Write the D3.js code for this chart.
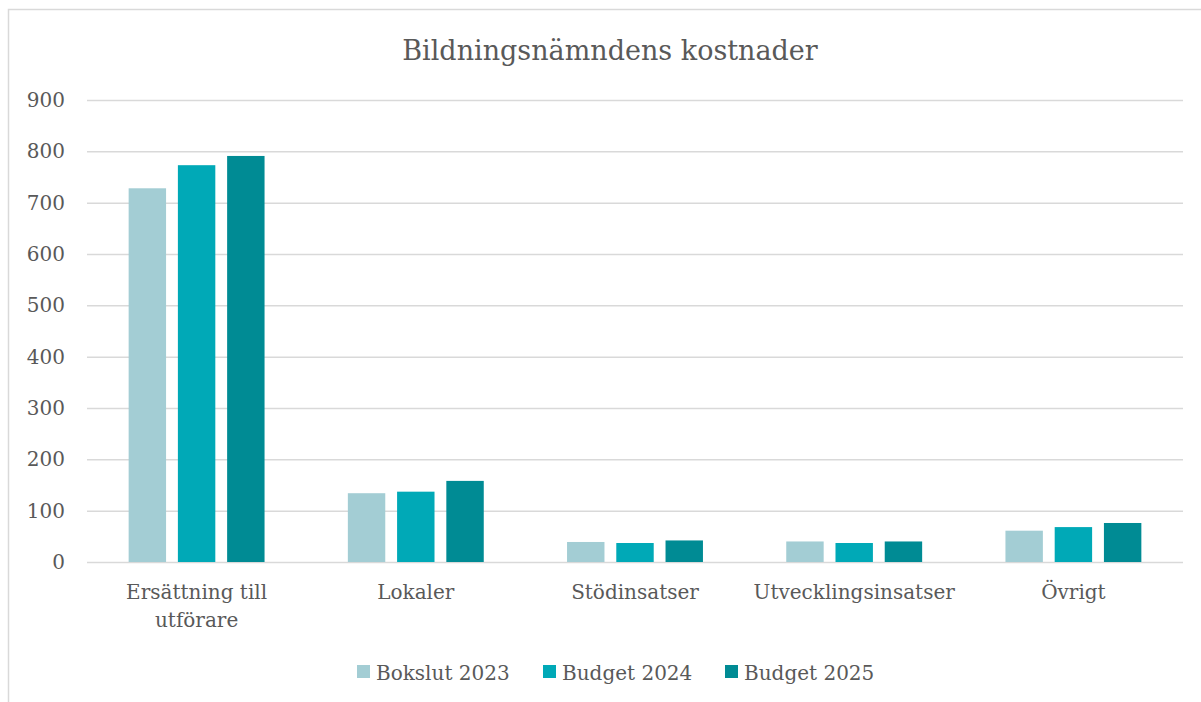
<!DOCTYPE html>
<html>
<head>
<meta charset="utf-8" />
<title>Bildningsnämndens kostnader</title>
<style type="text/css">
body{ margin:0; background:#fff; }
svg text{ font-family:"DejaVu Serif", serif; fill:#595959; }
</style>
<script src="https://d3js.org/d3.v7.min.js"></script>
</head>
<body>
<script>
	var categories = ["Ersättning till|utförare", "Lokaler", "Stödinsatser", "Utvecklingsinsatser", "Övrigt"];
	var seriesNames = ["Bokslut 2023", "Budget 2024", "Budget 2025"];
	var bokslut2023 = [728, 134, 39, 40, 61];
	var budget2024 = [773, 137, 37, 37, 68];
	var budget2025 = [791, 158, 42, 40, 76];
	var yTicks = [0, 100, 200, 300, 400, 500, 600, 700, 800, 900];
	var colors = ["#A3CDD4", "#00A9B7", "#008B94"];

	var values = [bokslut2023, budget2024, budget2025];
	var W = 1201, H = 702;
	var plotLeft = 87, plotRight = 1183, plotTop = 100, plotBottom = 562;

	//畫布
	var SVG = d3.select("body").append("svg")
		.attr("width", W)
		.attr("height", H);

	//外框
	SVG.append("rect")
		.attr("x", 8.5).attr("y", 9.5)
		.attr("width", 1210).attr("height", 720)
		.attr("fill", "none")
		.attr("stroke", "#D9D9D9")
		.attr("stroke-width", 1.5);

	var x = d3.scaleBand().domain(d3.range(categories.length)).range([plotLeft, plotRight]).paddingInner(0.38).paddingOuter(0.19);
	var xs = d3.scaleBand().domain(d3.range(seriesNames.length)).range([0, x.bandwidth()]).paddingInner(0.24);
	var y = d3.scaleLinear().domain([0, 900]).range([plotBottom, plotTop]);

	//格線
	SVG.append("g")
		.attr("transform", "translate(" + plotLeft + ",0)")
		.call(d3.axisLeft(y).tickValues(yTicks).tickSize(-(plotRight - plotLeft)).tickFormat(""))
		.call(function(g){
			g.select(".domain").remove();
			g.selectAll("line").attr("stroke", "#D9D9D9").attr("stroke-width", 1.5);
		});

	//y 標籤
	SVG.append("g")
		.selectAll("text")
		.data(yTicks)
		.enter().append("text")
		.attr("x", 65)
		.attr("y", function(d){ return y(d) + 7; })
		.attr("text-anchor", "end")
		.attr("font-size", 20)
		.text(function(d){ return d; });

	//長條
	values.forEach(function(vals, s){
		SVG.append("g")
			.selectAll("rect")
			.data(vals)
			.enter().append("rect")
			.attr("x", function(d, i){ return x(i) + xs(s); })
			.attr("y", function(d){ return y(d); })
			.attr("width", xs.bandwidth())
			.attr("height", function(d){ return plotBottom - y(d); })
			.attr("fill", colors[s]);
	});

	//類別
	categories.forEach(function(c, i){
		var lines = c.split("|");
		var t = SVG.append("text")
			.attr("x", x(i) + x.bandwidth() / 2)
			.attr("y", 599)
			.attr("text-anchor", "middle")
			.attr("font-size", 20);
		lines.forEach(function(l, k){
			t.append("tspan")
				.attr("x", x(i) + x.bandwidth() / 2)
				.attr("dy", k === 0 ? 0 : 28)
				.text(l);
		});
	});

	//標題
	SVG.append("text")
		.attr("x", 610)
		.attr("y", 60)
		.attr("text-anchor", "middle")
		.attr("font-size", 27)
		.text("Bildningsnämndens kostnader");

	//圖例
	var legendX = [357, 543, 725];
	seriesNames.forEach(function(n, s){
		SVG.append("rect")
			.attr("x", legendX[s]).attr("y", 665)
			.attr("width", 13).attr("height", 13)
			.attr("fill", colors[s]);
		SVG.append("text")
			.attr("x", legendX[s] + 19)
			.attr("y", 680)
			.attr("font-size", 20)
			.text(n);
	});
</script>
</body>
</html>
